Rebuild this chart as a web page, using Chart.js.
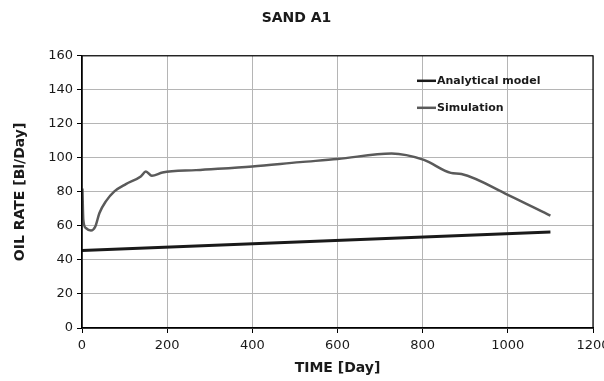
<!DOCTYPE html>
<html>
<head>
<meta charset="utf-8">
<script src="https://cdn.jsdelivr.net/npm/chart.js@4.4.1/dist/chart.umd.min.js"></script>
<style>
    html, body { margin: 0; padding: 0; background: #fff; }
</style>
</head>
<body>
<canvas id="grafico" width="604" height="381"></canvas>
<script>
// time in days and oil rate in Bl/Day
const simDays = [1, 3, 9, 21, 31, 41, 56, 76, 103, 138, 150, 164, 189, 268, 400, 512, 600, 727, 803, 866, 891, 1000, 1100];
const simRate = [82, 63.7, 58.8, 57.3, 59.5, 67.6, 74.4, 80.3, 84.6, 89.1, 92, 89.5, 91.4, 92.8, 95, 97.5, 99.3, 102.6, 98.8, 91.2, 90.5, 78.3, 66];
const anaDays = [0, 1100];
const anaRate = [45.5, 56.5];

const xTicks = [0, 200, 400, 600, 800, 1000, 1200];
const yTicks = [0, 20, 40, 60, 80, 100, 120, 140, 160];

const seriesNames = ['Analytical model', 'Simulation'];
const seriesColors = ['#1a1a1a', '#5a5a5a'];

function toPoints(xs, ys) {
    return xs.map((x, i) => ({ x: x, y: ys[i] }));
}

// black frame around the plot area
const framePlugin = {
    id: 'frame',
    afterDraw(chart) {
        const a = chart.chartArea;
        const ctx = chart.ctx;
        ctx.save();
        ctx.strokeStyle = '#000';
        ctx.lineWidth = 1.2;
        ctx.strokeRect(a.left, a.top, a.right - a.left, a.bottom - a.top);
        ctx.restore();
    }
};

// legend inside the plot, short line sample touching the text
const legendPlugin = {
    id: 'legendInside',
    afterDraw(chart) {
        const a = chart.chartArea;
        const ctx = chart.ctx;
        ctx.save();
        ctx.font = 'bold 11px "DejaVu Sans"';
        ctx.textBaseline = 'middle';
        chart.data.datasets.forEach((ds, i) => {
            const x = a.left + 335;
            const y = a.top + 25 + i * 27;
            ctx.strokeStyle = ds.borderColor;
            ctx.lineWidth = 2.5;
            ctx.beginPath();
            ctx.moveTo(x, y);
            ctx.lineTo(x + 19, y);
            ctx.stroke();
            ctx.fillStyle = '#1a1a1a';
            ctx.fillText(ds.label, x + 20, y);
        });
        ctx.restore();
    }
};

new Chart(document.getElementById('grafico').getContext('2d'), {
    type: 'line',
    data: {
        datasets: [{
            label: seriesNames[0],
            data: toPoints(anaDays, anaRate),
            borderColor: seriesColors[0],
            borderWidth: 3,
            pointRadius: 0
        }, {
            label: seriesNames[1],
            data: toPoints(simDays, simRate),
            borderColor: seriesColors[1],
            borderWidth: 2.5,
            pointRadius: 0,
            cubicInterpolationMode: 'monotone'
        }]
    },
    options: {
        responsive: false,
        animation: false,
        devicePixelRatio: 1,
        layout: {
            padding: { left: 0, right: 11, top: 0, bottom: 0 }
        },
        plugins: {
            legend: { display: false },
            tooltip: { enabled: false },
            title: {
                display: true,
                text: 'SAND A1',
                color: '#1a1a1a',
                font: { family: 'DejaVu Sans', size: 14, weight: 'bold' },
                padding: { top: 10, bottom: 29 }
            }
        },
        scales: {
            x: {
                type: 'linear',
                min: 0,
                max: 1200,
                afterBuildTicks: function (scale) {
                    scale.ticks = xTicks.map(v => ({ value: v }));
                },
                afterFit: function (scale) {
                    scale.height = 53;
                    scale.paddingLeft = 0;
                    scale.paddingRight = 0;
                },
                grid: { color: '#b5b5b5', lineWidth: 1, tickColor: '#000', tickLength: 5 },
                border: { color: '#000', width: 1.2 },
                ticks: {
                    color: '#1a1a1a',
                    font: { family: 'DejaVu Sans', size: 13 },
                    padding: 5,
                    maxRotation: 0,
                    autoSkip: false,
                    callback: function (value) {
                        return String(value);
                    }
                },
                title: {
                    display: true,
                    text: 'TIME [Day]',
                    color: '#1a1a1a',
                    font: { family: 'DejaVu Sans', size: 14, weight: 'bold' },
                    padding: { top: 0, bottom: 4 }
                }
            },
            y: {
                min: 0,
                max: 160,
                afterBuildTicks: function (scale) {
                    scale.ticks = yTicks.map(v => ({ value: v }));
                },
                afterFit: function (scale) {
                    scale.width = 82;
                },
                grid: { color: '#b5b5b5', lineWidth: 1, tickColor: '#000', tickLength: 5 },
                border: { color: '#000', width: 1.2 },
                ticks: {
                    color: '#1a1a1a',
                    font: { family: 'DejaVu Sans', size: 13 },
                    padding: 4,
                    callback: function (value) {
                        return String(value);
                    }
                },
                title: {
                    display: true,
                    text: 'OIL RATE [Bl/Day]',
                    color: '#1a1a1a',
                    font: { family: 'DejaVu Sans', size: 14, weight: 'bold' },
                    padding: { top: 12, bottom: 0 }
                }
            }
        }
    },
    plugins: [framePlugin, legendPlugin]
});
</script>
</body>
</html>
